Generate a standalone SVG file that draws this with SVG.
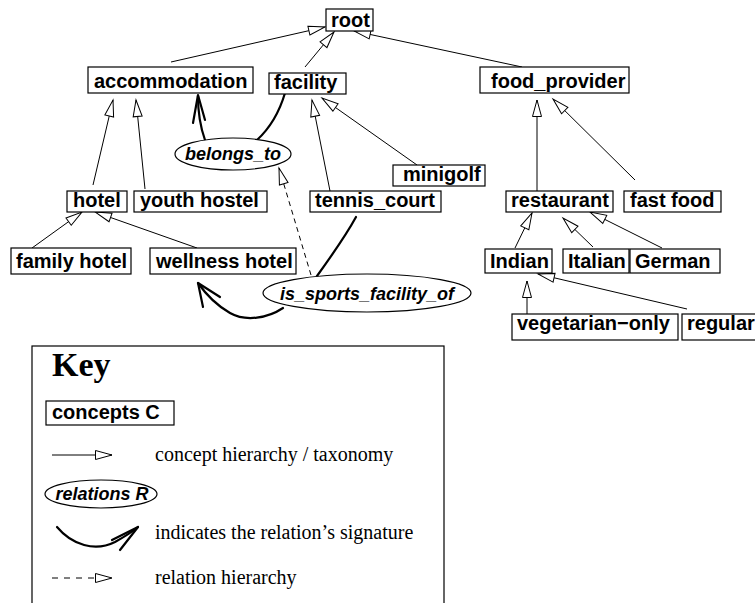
<svg xmlns="http://www.w3.org/2000/svg" width="755" height="603" viewBox="0 0 755 603">
<style>
.box{fill:#fff;stroke:#000;stroke-width:1.2}
.ct{font-family:"Liberation Sans",Arial,sans-serif;font-weight:bold;font-size:20px;fill:#000}
.rt{font-family:"Liberation Sans",Arial,sans-serif;font-weight:bold;font-style:italic;font-size:18px;fill:#000;text-anchor:middle}
.ell{fill:#fff;stroke:#000;stroke-width:1.2}
.isa{fill:none;stroke:#000;stroke-width:1;marker-end:url(#tri)}
.sub{fill:none;stroke:#000;stroke-width:1;stroke-dasharray:5 4;marker-end:url(#tri)}
.sig{fill:none;stroke:#000;stroke-width:2.2;stroke-linecap:round;stroke-linejoin:round}
.kt{font-family:"Liberation Serif","Times New Roman",serif;font-size:20px;fill:#000}
</style>
<defs>
<marker id="tri" markerUnits="userSpaceOnUse" markerWidth="19" markerHeight="12" refX="17" refY="5" orient="auto" overflow="visible">
<path d="M0.5,0.5 L17,5 L0.5,9.5 Z" fill="#fff" stroke="#000" stroke-width="1"/>
</marker>
</defs>
<rect width="755" height="603" fill="#fff"/>
<g id="connectors">
<line class="isa" x1="171" y1="62" x2="325" y2="27"/>
<line class="isa" x1="305" y1="67" x2="334" y2="32"/>
<line class="isa" x1="522" y1="67" x2="354" y2="31"/>
<line class="isa" x1="93" y1="185" x2="113" y2="100"/>
<line class="isa" x1="145" y1="189" x2="136" y2="100"/>
<line class="isa" x1="330" y1="191" x2="312" y2="100"/>
<line class="isa" x1="417" y1="165" x2="322" y2="98"/>
<line class="isa" x1="32" y1="248" x2="82" y2="212"/>
<line class="isa" x1="197" y1="248" x2="95" y2="212"/>
<line class="isa" x1="537" y1="191" x2="537" y2="100"/>
<line class="isa" x1="635" y1="180" x2="553" y2="99"/>
<line class="isa" x1="515" y1="248" x2="532" y2="213"/>
<line class="isa" x1="593" y1="247" x2="563" y2="218"/>
<line class="isa" x1="662" y1="248" x2="590" y2="212"/>
<line class="isa" x1="527" y1="314" x2="527" y2="281"/>
<line class="isa" x1="687" y1="309" x2="538" y2="274"/>
<line class="sub" x1="311" y1="275" x2="279" y2="168"/>
<path class="sig" d="M205,140 C200,126 198,112 198,96"/>
<path class="sig" d="M193,123 L198,95 L205,120"/>
<path class="sig" d="M285,93 C280,110 270,128 257,140"/>
<path class="sig" d="M356,217 C345,237 330,258 317,276"/>
<path class="sig" d="M283,308 C268,318 246,322 230,313 C216,305 205,293 198,283"/>
<path class="sig" d="M203,307 L198,283 L220,297"/>
</g>
<g id="root"><rect class="box" x="326" y="9" width="47" height="22"/><text class="ct" x="331" y="27">root</text></g>
<g id="accommodation"><rect class="box" x="88" y="67" width="165" height="26"/><text class="ct" x="94" y="88">accommodation</text></g>
<g id="facility"><rect class="box" x="269" y="73" width="77" height="21"/><text class="ct" x="274" y="89">facility</text></g>
<g id="food_provider"><rect class="box" x="480" y="67" width="149" height="26"/><text class="ct" x="491" y="88">food_provider</text></g>
<g id="minigolf"><rect class="box" x="393" y="165" width="92" height="21"/><text class="ct" x="403" y="181">minigolf</text></g>
<g id="hotel"><rect class="box" x="67" y="191" width="60" height="21"/><text class="ct" x="73" y="207">hotel</text></g>
<g id="youth_hostel"><rect class="box" x="134" y="191" width="133" height="21"/><text class="ct" x="140" y="207">youth hostel</text></g>
<g id="tennis_court"><rect class="box" x="310" y="191" width="131" height="21"/><text class="ct" x="315" y="207">tennis_court</text></g>
<g id="restaurant"><rect class="box" x="506" y="191" width="107" height="21"/><text class="ct" x="511" y="207">restaurant</text></g>
<g id="fast_food"><rect class="box" x="624" y="191" width="97" height="21"/><text class="ct" x="630" y="207">fast food</text></g>
<g id="family_hotel"><rect class="box" x="11" y="248" width="120" height="26"/><text class="ct" x="16" y="268">family hotel</text></g>
<g id="wellness_hotel"><rect class="box" x="150" y="248" width="146" height="26"/><text class="ct" x="156" y="268">wellness hotel</text></g>
<g id="Indian"><rect class="box" x="485" y="249" width="67" height="24"/><text class="ct" x="490" y="268">Indian</text></g>
<g id="Italian"><rect class="box" x="563" y="249" width="66" height="24"/><text class="ct" x="568" y="268">Italian</text></g>
<g id="German"><rect class="box" x="630" y="249" width="90" height="24"/><text class="ct" x="635" y="268">German</text></g>
<g id="vegetarian_only"><rect class="box" x="512" y="314" width="166" height="26"/><text class="ct" x="517" y="330">vegetarian−only</text></g>
<g id="regular"><rect class="box" x="682" y="314" width="80" height="26"/><text class="ct" x="687" y="330">regular</text></g>
<g id="belongs_to"><ellipse class="ell" cx="233" cy="154" rx="58" ry="16"/><text class="rt" x="233" y="160">belongs_to</text></g>
<g id="is_sports_facility_of"><ellipse class="ell" cx="367" cy="293" rx="104" ry="19"/><text class="rt" x="367" y="300">is_sports_facility_of</text></g>
<g id="key">
<rect x="32" y="346" width="412" height="270" fill="none" stroke="#000" stroke-width="1.2"/>
<text x="52" y="376" font-family="Liberation Serif,'Times New Roman',serif" font-weight="bold" font-size="34">Key</text>
<rect class="box" x="46" y="401" width="128" height="24"/>
<text class="ct" x="52" y="419">concepts C</text>
<line class="isa" x1="52" y1="455" x2="112" y2="455"/>
<text class="kt" x="155" y="461">concept hierarchy / taxonomy</text>
<ellipse class="ell" cx="101" cy="494" rx="56" ry="14"/>
<text class="rt" x="102" y="500">relations R</text>
<path class="sig" d="M57,527 C72,545 95,552 115,542 C124,537 132,532 138,527"/>
<path class="sig" d="M112,540 L138,527 L120,550"/>
<text class="kt" x="155" y="539">indicates the relation’s signature</text>
<line class="sub" x1="52" y1="578" x2="112" y2="578" style="stroke-dasharray:6 6"/>
<text class="kt" x="155" y="584">relation hierarchy</text>
</g>
</svg>
